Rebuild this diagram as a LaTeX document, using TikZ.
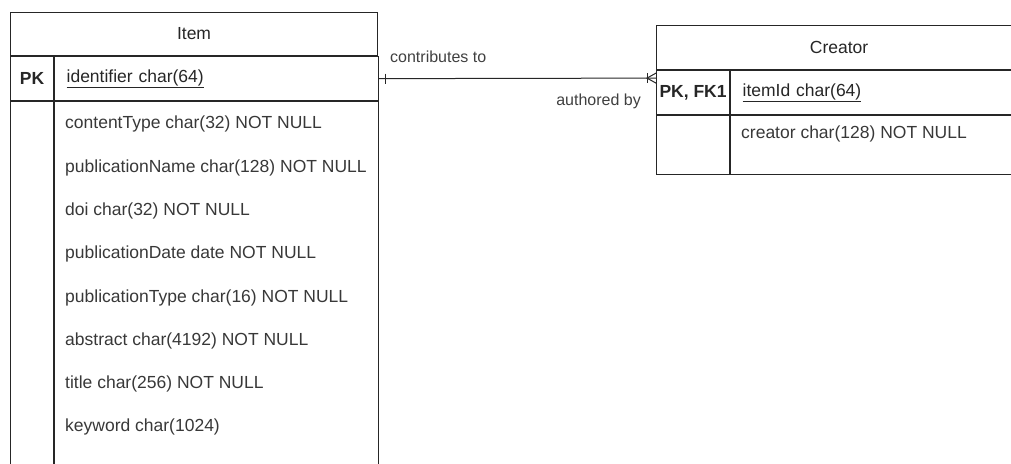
\documentclass[tikz,border=0pt]{standalone}
\usepackage{fontspec}
\setmainfont{Liberation Sans}
\usetikzlibrary{positioning}

\begin{document}
\begin{tikzpicture}[
  x=1pt, y=-1pt,
  cell/.style={draw=black!85, line width=1.1pt, inner sep=0pt, anchor=north west,
               font=\fontsize{17.5}{18}\selectfont, text=black!85},
  keycell/.style={cell, font=\fontsize{17.5}{18}\selectfont\bfseries},
  idcell/.style={cell, align=left, inner xsep=12pt},
  field/.style={anchor=west, inner sep=0pt, font=\fontsize{17.5}{18}\selectfont, text=black!78},
  rel/.style={inner sep=0pt, font=\fontsize{16}{16}\selectfont, text=black!75},
  conn/.style={draw=black!85, line width=1pt}
]
\clip (0,0) rectangle (1011,463);

% Item table
\node[cell, minimum width=367pt, minimum height=43pt] (itemHead) at (10,12) {Item};
\node[keycell, minimum width=43pt, minimum height=44pt] (itemKey) at (itemHead.south west) {PK};
\node[idcell, text width=300pt, minimum height=44pt] (itemId) at (itemKey.north east) {\underline{identifier char(64)}};
\node[cell, minimum width=43pt, minimum height=390pt] (itemKeyCol) at (itemKey.south west) {};
\node[cell, minimum width=324pt, minimum height=390pt] (itemBody) at (itemKeyCol.north east) {};
\node[field] (fContent) at (65,124) {contentType char(32) NOT NULL};
\node[field] (fPubName) at (65,168) {publicationName char(128) NOT NULL};
\node[field] (fDoi) at (65,211) {doi char(32) NOT NULL};
\node[field] (fPubDate) at (65,254) {publicationDate date NOT NULL};
\node[field] (fPubType) at (65,298) {publicationType char(16) NOT NULL};
\node[field] (fAbstract) at (65,341) {abstract char(4192) NOT NULL};
\node[field] (fTitle) at (65,384) {title char(256) NOT NULL};
\node[field] (fKeyword) at (65,427) {keyword char(1024)};

% Creator table
\node[cell, minimum width=365pt, minimum height=44pt] (creatorHead) at (656,25) {Creator};
\node[keycell, minimum width=73pt, minimum height=44pt] (creatorKey) at (creatorHead.south west) {PK, FK1};
\node[idcell, text width=268pt, minimum height=44pt] (creatorId) at (creatorKey.north east) {\underline{itemId char(64)}};
\node[cell, minimum width=73pt, minimum height=59pt] (creatorKeyCol) at (creatorKey.south west) {};
\node[cell, minimum width=292pt, minimum height=59pt] (creatorBody) at (creatorKeyCol.north east) {};
\node[field] (fCreator) at (741,134) {creator char(128) NOT NULL};

% relationship
\coordinate (relEnd) at ([yshift=-8pt]creatorHead.south west);
\draw[conn] (itemId.east) -- (relEnd);
\draw[conn] ([xshift=6pt,yshift=5pt]itemId.east) -- ([xshift=6pt,yshift=-5pt]itemId.east);
\draw[conn] ([xshift=-9pt,yshift=5pt]relEnd) -- ([xshift=-9pt,yshift=-5pt]relEnd);
\draw[conn] ([yshift=5pt]relEnd) -- ([xshift=-9pt]relEnd) -- ([yshift=-5pt]relEnd);
\node[rel, anchor=west] (lblContrib) at (390,57) {contributes to};
\node[rel, anchor=east] (lblAuthored) at (641,101) {authored by};
\end{tikzpicture}
\end{document}
